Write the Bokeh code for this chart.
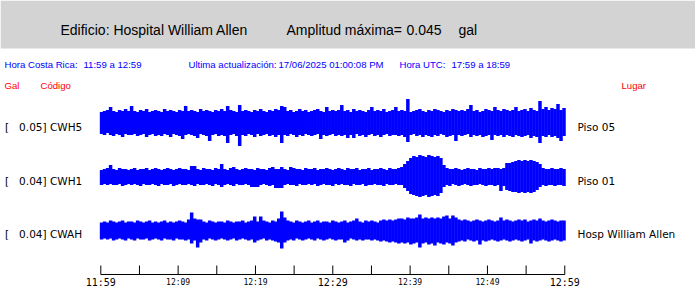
import numpy as np
from bokeh.plotting import figure
from bokeh.models import Range1d
from bokeh.core.properties import value
from bokeh.embed import file_html
from bokeh.resources import INLINE

# ---------------- data ----------------
title_building = "Edificio: Hospital William Allen"
title_amp_label = "Amplitud máxima="
max_amplitude = "0.045"
amp_unit = "gal"

info_labels = ["Hora Costa Rica:", "11:59 a 12:59", "Ultima actualización:",
               "17/06/2025 01:00:08 PM", "Hora UTC:", "17:59 a 18:59"]
column_heads = ["Gal", "Código", "Lugar"]

stations = ["CWH5", "CWH1", "CWAH"]
station_scales = ["0.05", "0.04", "0.04"]
places = ["Piso 05", "Piso 01", "Hosp William Allen"]

tick_minutes = [0, 5, 10, 15, 20, 25, 30, 35, 40, 45, 50, 55, 60]
major_tick_minutes = [0, 30, 60]
major_tick_labels = ["11:59", "12:29", "12:59"]
minor_tick_minutes = [10, 20, 40, 50]
minor_tick_labels = ["12:09", "12:19", "12:39", "12:49"]

# envelope of each record (upper / lower peak amplitude per ~23 s window, counts)
cwh5_upper = [11,12,13,16,12,11,13,12,14,12, 17,12,11,13,12,14,11,12,13,12,
              11,14,12,13,12,11,13,12,17,12, 13,12,11,14,12,13,12,11,13,12,
              14,12,17,13,12,11,18,12,13,12, 11,13,12,14,12,11,13,12,14,13,
              17,16,12,13,11,12,14,12,13,11, 12,13,14,12,11,16,12,13,12,13,
              18,12,13,11,14,12,13,12,11,13, 16,12,13,12,14,11,12,13,16,12,
              13,12,24,11,12,13,14,12,11,13, 12,14,13,12,11,13,12,14,13,12,
              13,12,14,18,12,13,11,12,14,13, 12,16,13,12,14,13,12,13,16,12,
              13,14,12,15,13,12,22,14,16,13, 15,14,19,13,15]
cwh5_lower = [11,12,10,12,13,11,12,14,11,12, 12,11,13,12,11,14,12,11,13,12,
              13,11,12,14,11,12,13,16,12,11, 12,13,15,11,12,13,18,12,11,13,
              12,13,20,12,11,13,23,12,13,11, 12,14,11,13,12,11,13,12,14,12,
              20,12,13,11,12,14,12,13,11,12, 13,12,11,16,12,13,12,11,13,12,
              13,12,15,12,15,11,13,12,14,12, 11,13,12,14,12,11,13,12,12,13,
              12,14,19,12,11,13,12,14,12,13, 14,12,13,11,12,14,13,12,18,12,
              13,12,11,14,12,13,12,14,13,12, 17,12,13,12,14,12,13,14,12,13,
              14,13,12,15,13,14,20,13,14,12, 14,13,15,18,13]

cwh1_upper = [7,8,9,12,8,7,9,8,8,7, 8,9,7,8,8,9,7,8,9,8,
              7,8,9,8,7,8,9,8,8,7, 11,11,8,7,9,8,8,7,9,8,
              13,8,7,9,10,8,7,8,9,8, 8,7,9,8,8,7,9,10,8,8,
              10,8,7,10,9,8,8,7,9,8, 8,9,7,8,8,9,8,7,8,9,
              8,7,9,8,8,9,7,8,8,9, 7,8,8,9,8,7,9,8,8,9,
              10,13,16,19,21,20,22,21,20,22, 21,20,21,19,12,9,8,8,9,8,
              7,8,9,8,8,7,9,8,8,9, 8,9,9,8,9,14,14,15,16,17,
              16,17,16,17,16,15,13,9,8,8, 9,8,8,9,8]
cwh1_lower = [8,7,8,7,8,8,7,9,8,7, 8,7,8,9,7,8,8,7,8,9,
              7,8,8,7,9,8,7,8,8,7, 8,9,7,8,8,7,8,9,7,8,
              10,8,7,8,9,7,8,8,7,8, 10,10,10,8,7,8,9,8,11,11,
              11,8,7,8,8,9,7,8,8,7, 8,7,9,8,7,8,8,9,7,8,
              7,8,8,9,7,8,8,7,9,8, 8,7,8,8,9,7,8,8,7,8,
              8,11,14,17,18,19,20,19,18,20, 19,18,19,16,10,8,9,7,8,9,
              8,7,8,9,8,8,7,8,9,8, 8,9,8,14,9,13,14,15,15,16,
              15,16,15,16,15,13,10,8,9,8, 8,9,8,8,9]

cwah_upper = [8,9,8,10,9,8,9,10,8,9, 9,8,10,9,8,9,10,8,9,8,
              9,10,8,9,8,9,10,9,8,11, 18,12,11,11,9,8,10,9,8,9,
              9,8,10,9,8,9,9,10,8,9, 10,14,9,14,10,9,8,10,9,12,
              19,13,10,9,8,10,9,8,9,10, 8,9,10,8,9,9,8,10,9,8,
              9,10,8,9,10,12,9,8,10,9, 10,9,8,10,11,10,11,10,11,12,
              12,11,13,12,12,13,16,12,13,12, 13,12,13,12,14,15,12,15,13,11,
              10,11,10,9,10,11,10,9,10,11, 10,9,10,13,10,11,10,9,10,11,
              10,11,9,10,11,10,12,10,9,10, 11,10,9,10,10]
cwah_lower = [9,8,9,8,10,9,8,9,10,8, 9,10,8,9,9,8,10,9,8,9,
              10,8,9,9,10,8,9,9,10,9, 13,10,17,12,9,10,8,9,10,9,
              8,9,10,9,8,10,9,8,9,10, 9,12,10,9,8,10,9,10,11,12,
              18,12,10,9,10,8,9,10,9,8, 9,10,8,9,10,9,8,9,10,9,
              9,12,10,8,9,10,9,10,9,9, 10,9,10,11,10,11,12,11,12,13,
              12,13,12,14,13,12,17,13,12,14, 13,15,12,13,14,12,13,15,12,11,
              10,11,9,10,11,10,14,10,11,10, 9,10,11,10,9,10,11,10,9,10,
              11,10,9,13,10,11,10,9,10,11, 10,9,10,11,10]

# ---------------- layout constants ----------------
W, H = 695, 288
X0_PX, PX_PER_MIN = 100.3, 7.733
TRACE_CENTERS = [122.5, 176.5, 230.0]
BLUE = "#0000ff"
RED = "#ff0000"
HEAD = value("Liberation Sans")
SANS = value("DejaVu Sans")
MONO = value("DejaVu Sans Mono")
NBSP = "\u00a0"

p = figure(width=W, height=H, output_backend="svg", toolbar_location=None,
           x_range=Range1d(0, W), y_range=Range1d(H, 0),
           x_axis_type=None, y_axis_type=None, min_border=0)
p.grid.visible = False
p.outline_line_color = None
p.background_fill_color = "white"
p.border_fill_color = "white"

p.extra_x_ranges = {"time": Range1d(-X0_PX / PX_PER_MIN, (W - X0_PX) / PX_PER_MIN)}
for name, c in zip(stations, TRACE_CENTERS):
    p.extra_y_ranges[name] = Range1d(c - H, c)

# header band
p.quad(left=[0], right=[W], top=[0], bottom=[48], fill_color="#d3d3d3", line_color=None)
p.text(x=[60, 286, 406, 458], y=[29.3] * 4,
       text=[title_building, title_amp_label, max_amplitude, amp_unit],
       text_font=HEAD, text_font_size="14px", text_color="black",
       text_baseline="alphabetic", text_align="left")

# info line
p.text(x=[4, 83, 188, 278, 399, 451], y=[64.3] * 6, text=info_labels,
       text_font=HEAD, text_font_size="9.6px", text_color=BLUE,
       text_baseline="alphabetic", text_align="left")
p.text(x=[4, 40, 621], y=[84.5] * 3, text=column_heads,
       text_font=HEAD, text_font_size="9.6px", text_color=RED,
       text_baseline="alphabetic", text_align="left")

# traces
uppers = [cwh5_upper, cwh1_upper, cwah_upper]
lowers = [cwh5_lower, cwh1_lower, cwah_lower]
for name, up, lo in zip(stations, uppers, lowers):
    n = min(len(up), len(lo))
    t = np.linspace(0.1, 59.9, n)
    p.segment(x0=t, y0=-np.array(lo[:n]), x1=t, y1=np.array(up[:n]),
              line_color=BLUE, line_width=3.5, line_cap="butt",
              x_range_name="time", y_range_name=name)

# left / right labels
left_labels = ["[" + NBSP * 3 + s + "] " + n for s, n in zip(station_scales, stations)]
label_baselines = [c + 3.7 for c in TRACE_CENTERS]
p.text(x=[4.5] * 3, y=label_baselines, text=left_labels,
       text_font=SANS, text_font_size="10.5px", text_color="black",
       text_baseline="alphabetic", text_align="left")
p.text(x=[577] * 3, y=label_baselines, text=places,
       text_font=SANS, text_font_size="10.5px", text_color="black",
       text_baseline="alphabetic", text_align="left")

# time axis
p.segment(x0=[0], y0=[274], x1=[60], y1=[274], line_color="black", line_width=1,
          x_range_name="time")
p.segment(x0=tick_minutes, y0=[265] * len(tick_minutes), x1=tick_minutes,
          y1=[274] * len(tick_minutes), line_color="black", line_width=1,
          x_range_name="time")
p.text(x=major_tick_minutes, y=[282.4] * 3, text=major_tick_labels,
       text_font=MONO, text_font_size="10px", text_color="black",
       text_baseline="alphabetic", text_align="center", x_range_name="time")
p.text(x=minor_tick_minutes, y=[282.3] * 4, text=minor_tick_labels,
       text_font=MONO, text_font_size="8px", text_color="black",
       text_baseline="alphabetic", text_align="center", x_range_name="time")

open("out.html", "w").write(file_html(p, INLINE))
